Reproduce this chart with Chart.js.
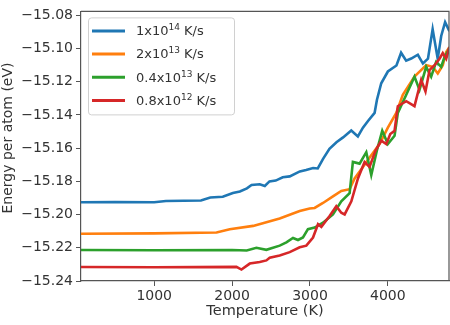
<!DOCTYPE html>
<html>
<head>
<meta charset="utf-8">
<script src="https://cdn.jsdelivr.net/npm/chart.js@4"></script>
<style>
  html, body { margin: 0; padding: 0; background: #fff; }
  #wrap { width: 450px; height: 325px; }
</style>
</head>
<body>
<div id="wrap"><canvas id="chart"></canvas></div>
<script>
const labels = ['1x10^14 K/s', '2x10^13 K/s', '0.4x10^13 K/s', '0.8x10^12 K/s'];
const colors = ['#1f77b4', '#ff7f0e', '#2ca02c', '#d62728'];

const blueT = [60, 500, 1000, 1150, 1600, 1720, 1880, 2010, 2100, 2190, 2250, 2355, 2420, 2480, 2560, 2650, 2740, 2870, 2950, 3040, 3100, 3170, 3250, 3340, 3425, 3530, 3615, 3680, 3745, 3830, 3860, 3915, 4000, 4110, 4170, 4235, 4300, 4385, 4450, 4515, 4575, 4640, 4685, 4735, 4790];
const blueE = [-15.1926, -15.1925, -15.1926, -15.1918, -15.1915, -15.1897, -15.1893, -15.1870, -15.1861, -15.1842, -15.1822, -15.1817, -15.1828, -15.1800, -15.1795, -15.1775, -15.1770, -15.1740, -15.1732, -15.1719, -15.1722, -15.1663, -15.1604, -15.1564, -15.1535, -15.1493, -15.1529, -15.1476, -15.1436, -15.1387, -15.1308, -15.1209, -15.1138, -15.1102, -15.1025, -15.1073, -15.1060, -15.1037, -15.1090, -15.1061, -15.0883, -15.1061, -15.0924, -15.0841, -15.0895];

const orangeT = [60, 1000, 1800, 1970, 2270, 2611, 2868, 2996, 3060, 3167, 3295, 3402, 3509, 3573, 3680, 3787, 3893, 4000, 4108, 4192, 4342, 4492, 4577, 4641, 4705, 4749, 4790];
const orangeE = [-15.2115, -15.2113, -15.2108, -15.2088, -15.2068, -15.2023, -15.1979, -15.1963, -15.1960, -15.1930, -15.1890, -15.1857, -15.1847, -15.1782, -15.1713, -15.1643, -15.1575, -15.1476, -15.1387, -15.1278, -15.1169, -15.1100, -15.1110, -15.1150, -15.1100, -15.1021, -15.0991];

const greenT = [60, 1000, 2000, 2188, 2312, 2440, 2611, 2697, 2782, 2846, 2910, 2974, 3060, 3167, 3295, 3402, 3509, 3551, 3637, 3723, 3787, 3859, 3928, 4000, 4086, 4128, 4236, 4342, 4406, 4492, 4556, 4620, 4685, 4727, 4790];
const greenE = [-15.2213, -15.2215, -15.2213, -15.2216, -15.2200, -15.2212, -15.2187, -15.2167, -15.2141, -15.2153, -15.2138, -15.2088, -15.2078, -15.2049, -15.1999, -15.1920, -15.1871, -15.1683, -15.1693, -15.1624, -15.1762, -15.1614, -15.1495, -15.1575, -15.1525, -15.1387, -15.1278, -15.1169, -15.1249, -15.1110, -15.1169, -15.1080, -15.1110, -15.1051, -15.1001];

const redT = [60, 1000, 2056, 2120, 2227, 2355, 2440, 2483, 2611, 2740, 2868, 2953, 3039, 3103, 3146, 3252, 3338, 3402, 3445, 3531, 3616, 3701, 3765, 3842, 3915, 3980, 4031, 4086, 4128, 4236, 4342, 4428, 4483, 4535, 4599, 4663, 4705, 4749, 4790];
const redE = [-15.2316, -15.2317, -15.2315, -15.2331, -15.2295, -15.2286, -15.2276, -15.2260, -15.2246, -15.2226, -15.2197, -15.2187, -15.2138, -15.2058, -15.2074, -15.2009, -15.1950, -15.1989, -15.1999, -15.1920, -15.1782, -15.1683, -15.1713, -15.1614, -15.1554, -15.1575, -15.1515, -15.1495, -15.1347, -15.1317, -15.1347, -15.1189, -15.1258, -15.1130, -15.1100, -15.1061, -15.1027, -15.1061, -15.0991];

const xTicks = [1000, 2000, 3000, 4000];
const yTicks = [-15.24, -15.22, -15.20, -15.18, -15.16, -15.14, -15.12, -15.10, -15.08];
const yTitle = 'Energy per atom (eV)';

const textColor = '#333';
const spineColor = '#555';
const font = 'DejaVu Sans';

function points(ts, es) {
  return ts.map((t, i) => ({ x: t, y: es[i] }));
}

const series = [[blueT, blueE], [orangeT, orangeE], [greenT, greenE], [redT, redE]];

const datasets = series.map(([ts, es], i) => ({
  label: labels[i],
  data: points(ts, es),
  borderColor: colors[i],
  borderWidth: 2.6,
  pointRadius: 0,
  tension: 0,
  order: series.length - i,
}));

// top and right spines, y title, and the legend with superscripts
const frame = {
  id: 'frame',
  afterDraw(chart) {
    const { ctx, chartArea: a } = chart;
    ctx.save();
    ctx.strokeStyle = spineColor;
    ctx.lineWidth = 1.2;
    ctx.beginPath();
    ctx.moveTo(a.left, a.top);
    ctx.lineTo(a.right, a.top);
    ctx.lineTo(a.right, a.bottom);
    ctx.stroke();

    ctx.save();
    ctx.translate(8, 138);
    ctx.rotate(-Math.PI / 2);
    ctx.fillStyle = textColor;
    ctx.font = `14px "${font}"`;
    ctx.textAlign = 'center';
    ctx.textBaseline = 'middle';
    ctx.fillText(yTitle, 0, 0);
    ctx.restore();

    // legend
    const bx = a.left + 7, by = a.top + 6, bw = 146, bh = 97;
    ctx.beginPath();
    ctx.roundRect(bx + 0.5, by + 0.5, bw, bh, 3);
    ctx.fillStyle = 'rgba(255,255,255,0.8)';
    ctx.fill();
    ctx.strokeStyle = '#d0d0d0';
    ctx.lineWidth = 1;
    ctx.stroke();

    labels.forEach((label, i) => {
      const y = by + 13.5 + i * 23.2;
      ctx.strokeStyle = colors[i];
      ctx.lineWidth = 3;
      ctx.beginPath();
      ctx.moveTo(bx + 4, y);
      ctx.lineTo(bx + 37, y);
      ctx.stroke();

      const [base, rest] = label.split('^');
      const sup = rest.split(' ')[0];
      const tail = rest.slice(sup.length);
      let x = bx + 48;
      ctx.fillStyle = textColor;
      ctx.textBaseline = 'middle';
      ctx.textAlign = 'left';
      ctx.font = `13px "${font}"`;
      ctx.fillText(base, x, y + 1);
      x += ctx.measureText(base).width;
      ctx.font = `9px "${font}"`;
      ctx.fillText(sup, x, y - 3);
      x += ctx.measureText(sup).width;
      ctx.font = `13px "${font}"`;
      ctx.fillText(tail, x, y + 1);
    });
    ctx.restore();
  },
};

new Chart(document.getElementById('chart'), {
  type: 'line',
  data: { datasets },
  options: {
    responsive: true,
    maintainAspectRatio: false,
    animation: false,
    layout: { padding: { top: 7, right: 1, left: 0, bottom: 0 } },
    plugins: {
      legend: { display: false },
      tooltip: { enabled: false },
    },
    scales: {
      x: {
        type: 'linear',
        min: 60,
        max: 4785,
        afterBuildTicks: (scale) => {
          scale.ticks = xTicks.map((v) => ({ value: v }));
        },
        afterFit: (scale) => {
          scale.height = 44;
        },
        grid: { drawOnChartArea: false, drawTicks: true, tickLength: 5, color: spineColor },
        border: { display: true, color: spineColor, width: 1.2 },
        ticks: {
          color: textColor,
          font: { family: font, size: 14 },
          padding: 2,
          maxRotation: 0,
          callback: (v) => String(v),
        },
        title: {
          display: true,
          text: 'Temperature (K)',
          color: textColor,
          font: { family: font, size: 14.5 },
          padding: { top: 0, bottom: 5 },
        },
      },
      y: {
        type: 'linear',
        min: -15.24,
        max: -15.0776,
        afterBuildTicks: (scale) => {
          scale.ticks = yTicks.map((v) => ({ value: v }));
        },
        afterFit: (scale) => {
          scale.width = 81;
        },
        grid: { drawOnChartArea: false, drawTicks: true, tickLength: 5, color: spineColor },
        border: { display: true, color: spineColor, width: 1.2 },
        ticks: {
          color: textColor,
          font: { family: font, size: 14 },
          padding: 3,
          callback: (v) => '\u2212' + Math.abs(v).toFixed(2),
        },
        title: { display: false },
      },
    },
  },
  plugins: [frame],
});
</script>
</body>
</html>
